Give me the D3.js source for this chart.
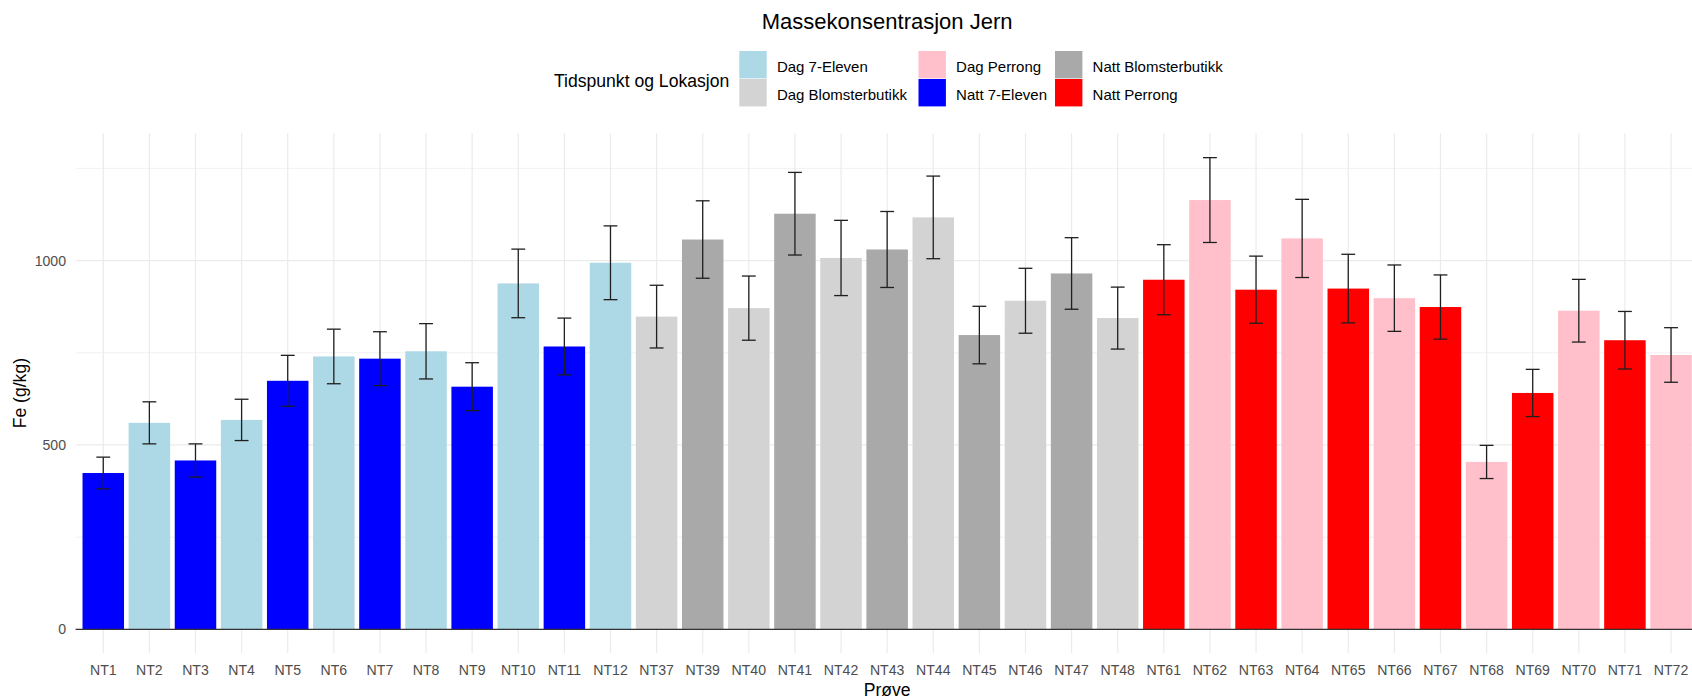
<!DOCTYPE html>
<html>
<head>
<meta charset="utf-8">
<script src="https://cdn.jsdelivr.net/npm/d3@7"></script>
<style>
  html, body { margin: 0; padding: 0; background: #fff; }
  svg { display: block; font-family: "Liberation Sans", Arial, Helvetica, sans-serif; }
</style>
</head>
<body>
<svg id="chart" width="1692" height="699"></svg>
<script>
// Sample names along the x axis
const samples = ["NT1","NT2","NT3","NT4","NT5","NT6","NT7","NT8","NT9","NT10","NT11","NT12",
  "NT37","NT39","NT40","NT41","NT42","NT43","NT44","NT45","NT46","NT47","NT48",
  "NT61","NT62","NT63","NT64","NT65","NT66","NT67","NT68","NT69","NT70","NT71","NT72"];

// Time of day and location for each sample
const groups = ["Natt 7-Eleven","Dag 7-Eleven","Natt 7-Eleven","Dag 7-Eleven","Natt 7-Eleven","Dag 7-Eleven",
  "Natt 7-Eleven","Dag 7-Eleven","Natt 7-Eleven","Dag 7-Eleven","Natt 7-Eleven","Dag 7-Eleven",
  "Dag Blomsterbutikk","Natt Blomsterbutikk","Dag Blomsterbutikk","Natt Blomsterbutikk","Dag Blomsterbutikk",
  "Natt Blomsterbutikk","Dag Blomsterbutikk","Natt Blomsterbutikk","Dag Blomsterbutikk","Natt Blomsterbutikk",
  "Dag Blomsterbutikk",
  "Natt Perrong","Dag Perrong","Natt Perrong","Dag Perrong","Natt Perrong","Dag Perrong","Natt Perrong",
  "Dag Perrong","Natt Perrong","Dag Perrong","Natt Perrong","Dag Perrong"];

// Mass concentration of iron, Fe (g/kg)
const feValues = [424, 560, 458, 568, 674, 740, 734, 754, 658, 938, 767, 994,
  848, 1057, 871, 1127, 1007, 1030, 1117, 798, 891, 965, 844,
  948, 1164, 921, 1060, 924, 898, 874, 454, 641, 864, 784, 744];

// Uncertainty (half-width of each error bar), g/kg
const feErrors = [43, 57, 45, 56, 69, 74, 73, 75, 65, 93, 77, 100,
  85, 105, 87, 112, 102, 103, 112, 78, 88, 97, 84,
  95, 115, 91, 106, 93, 90, 87, 45, 64, 85, 78, 74];

// Legend entries and their fills
const legendLabels = ["Dag 7-Eleven","Dag Blomsterbutikk","Dag Perrong","Natt 7-Eleven","Natt Blomsterbutikk","Natt Perrong"];
const legendColors = ["#ADD8E6","#D3D3D3","#FFC0CB","#0000FF","#A9A9A9","#FF0000"];

const yTicks = [0, 500, 1000];
const yMinorTicks = [250, 750, 1250];

const data = samples.map((s, i) => ({ sample: s, group: groups[i], value: feValues[i], err: feErrors[i] }));

const svg = d3.select("#chart");

// Panel geometry
const panel = { left: 75.6, right: 1698.7, top: 133.3, bottom: 653 };

const x = d3.scaleBand()
  .domain(samples)
  .range([panel.left, panel.right])
  .paddingInner(0.1)
  .paddingOuter(0.15);

const y = d3.scaleLinear()
  .domain([-64, 1345])
  .range([panel.bottom, panel.top]);

const color = d3.scaleOrdinal().domain(legendLabels).range(legendColors);

const cx = d => x(d) + x.bandwidth() / 2;

// Grid
const grid = svg.append("g");
grid.selectAll("line.minor")
  .data(yMinorTicks).join("line")
  .attr("x1", panel.left).attr("x2", panel.right)
  .attr("y1", d => y(d)).attr("y2", d => y(d))
  .attr("stroke", "#EBEBEB").attr("stroke-width", 0.7);
grid.selectAll("line.major")
  .data(yTicks).join("line")
  .attr("x1", panel.left).attr("x2", panel.right)
  .attr("y1", d => y(d)).attr("y2", d => y(d))
  .attr("stroke", "#EBEBEB").attr("stroke-width", 1.2);
grid.selectAll("line.vert")
  .data(samples).join("line")
  .attr("x1", d => cx(d)).attr("x2", d => cx(d))
  .attr("y1", panel.top).attr("y2", panel.bottom)
  .attr("stroke", "#EBEBEB").attr("stroke-width", 1.2);

// Bars
svg.append("g").selectAll("rect")
  .data(data).join("rect")
  .attr("x", d => x(d.sample))
  .attr("width", x.bandwidth())
  .attr("y", d => y(d.value))
  .attr("height", d => y(0) - y(d.value))
  .attr("fill", d => color(d.group));

// Zero line
svg.append("line")
  .attr("x1", panel.left).attr("x2", panel.right)
  .attr("y1", y(0)).attr("y2", y(0))
  .attr("stroke", "#333").attr("stroke-width", 1.3);

// Error bars
const capW = x.step() * 0.3;
const eb = svg.append("g").attr("stroke", "#1f1f1f").attr("stroke-width", 1.3).attr("fill", "none");
const ebg = eb.selectAll("g").data(data).join("g");
ebg.append("line")
  .attr("x1", d => cx(d.sample)).attr("x2", d => cx(d.sample))
  .attr("y1", d => y(d.value + d.err)).attr("y2", d => y(d.value - d.err));
ebg.append("line")
  .attr("x1", d => cx(d.sample) - capW / 2).attr("x2", d => cx(d.sample) + capW / 2)
  .attr("y1", d => y(d.value + d.err)).attr("y2", d => y(d.value + d.err));
ebg.append("line")
  .attr("x1", d => cx(d.sample) - capW / 2).attr("x2", d => cx(d.sample) + capW / 2)
  .attr("y1", d => y(d.value - d.err)).attr("y2", d => y(d.value - d.err));

// Axes
const yAxis = svg.append("g")
  .attr("transform", `translate(${panel.left},0)`)
  .call(d3.axisLeft(y).tickValues(yTicks).tickFormat(d3.format("d")).tickSize(0).tickPadding(9.6));
yAxis.select(".domain").remove();
yAxis.selectAll("text")
  .attr("fill", "#4D4D4D").style("font-size", "14.1px")
  .style("font-family", "'Liberation Sans', Arial, sans-serif");

const xAxis = svg.append("g")
  .attr("transform", `translate(0,${panel.bottom})`)
  .call(d3.axisBottom(x).tickSize(0).tickPadding(12));
xAxis.select(".domain").remove();
xAxis.selectAll("text")
  .attr("fill", "#4D4D4D").style("font-size", "14.1px")
  .style("font-family", "'Liberation Sans', Arial, sans-serif");

// Axis titles
svg.append("text")
  .attr("x", (panel.left + panel.right) / 2).attr("y", 696)
  .attr("text-anchor", "middle").attr("fill", "#000")
  .style("font-size", "17.6px").text("Prøve");

svg.append("text")
  .attr("transform", `translate(25.5,${(panel.top + panel.bottom) / 2}) rotate(-90)`)
  .attr("text-anchor", "middle").attr("fill", "#000")
  .style("font-size", "17.6px").text("Fe (g/kg)");

// Title
svg.append("text")
  .attr("x", (panel.left + panel.right) / 2).attr("y", 29.3)
  .attr("text-anchor", "middle").attr("fill", "#000")
  .style("font-size", "22px").text("Massekonsentrasjon Jern");

// Legend (two rows, filled by column)
const keySize = 27.4;
const keyTop = 51;
const colX = [739.3, 918.5, 1055];
const legend = svg.append("g");
legend.append("text")
  .attr("x", 729.3).attr("y", 86.7)
  .attr("text-anchor", "end").attr("fill", "#000")
  .style("font-size", "17.6px").text("Tidspunkt og Lokasjon");

const items = legend.selectAll("g.item")
  .data(legendLabels).join("g")
  .attr("transform", (d, i) => `translate(${colX[Math.floor(i / 2)]},${keyTop + (i % 2) * (keySize + 0.6)})`);
items.append("rect")
  .attr("width", keySize).attr("height", keySize)
  .attr("fill", d => color(d));
items.append("text")
  .attr("x", keySize + 10.2).attr("y", keySize / 2 + 7.6)
  .attr("fill", "#000").style("font-size", "15px")
  .text(d => d);
</script>
</body>
</html>
